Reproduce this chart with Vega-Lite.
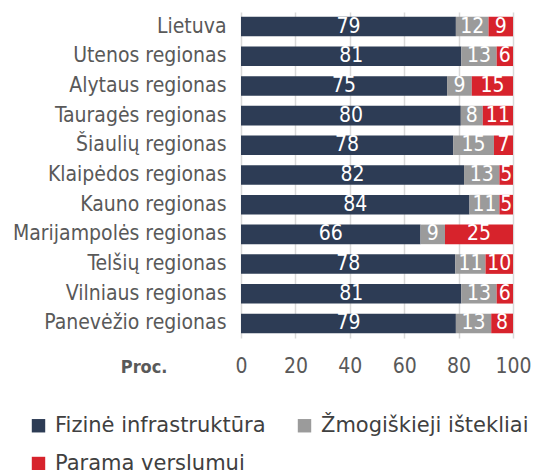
{
  "$schema": "https://vega.github.io/schema/vega-lite/v6.json",
  "autosize": {"type": "none"},
  "padding": {"left": 241, "top": 12, "right": 22, "bottom": 132},
  "width": 272,
  "height": 326,
  "background": "white",
  "config": {
    "font": "DejaVu Sans Condensed",
    "view": {"stroke": null}
  },
  "data": {
    "values": [
      {"region": "Lietuva", "category": "Fizinė infrastruktūra", "i": 0, "value": 79},
      {"region": "Lietuva", "category": "Žmogiškieji ištekliai", "i": 1, "value": 12},
      {"region": "Lietuva", "category": "Parama verslumui", "i": 2, "value": 9},
      {"region": "Utenos regionas", "category": "Fizinė infrastruktūra", "i": 0, "value": 81},
      {"region": "Utenos regionas", "category": "Žmogiškieji ištekliai", "i": 1, "value": 13},
      {"region": "Utenos regionas", "category": "Parama verslumui", "i": 2, "value": 6},
      {"region": "Alytaus regionas", "category": "Fizinė infrastruktūra", "i": 0, "value": 75},
      {"region": "Alytaus regionas", "category": "Žmogiškieji ištekliai", "i": 1, "value": 9},
      {"region": "Alytaus regionas", "category": "Parama verslumui", "i": 2, "value": 15},
      {"region": "Tauragės regionas", "category": "Fizinė infrastruktūra", "i": 0, "value": 80},
      {"region": "Tauragės regionas", "category": "Žmogiškieji ištekliai", "i": 1, "value": 8},
      {"region": "Tauragės regionas", "category": "Parama verslumui", "i": 2, "value": 11},
      {"region": "Šiaulių regionas", "category": "Fizinė infrastruktūra", "i": 0, "value": 78},
      {"region": "Šiaulių regionas", "category": "Žmogiškieji ištekliai", "i": 1, "value": 15},
      {"region": "Šiaulių regionas", "category": "Parama verslumui", "i": 2, "value": 7},
      {"region": "Klaipėdos regionas", "category": "Fizinė infrastruktūra", "i": 0, "value": 82},
      {"region": "Klaipėdos regionas", "category": "Žmogiškieji ištekliai", "i": 1, "value": 13},
      {"region": "Klaipėdos regionas", "category": "Parama verslumui", "i": 2, "value": 5},
      {"region": "Kauno regionas", "category": "Fizinė infrastruktūra", "i": 0, "value": 84},
      {"region": "Kauno regionas", "category": "Žmogiškieji ištekliai", "i": 1, "value": 11},
      {"region": "Kauno regionas", "category": "Parama verslumui", "i": 2, "value": 5},
      {"region": "Marijampolės regionas", "category": "Fizinė infrastruktūra", "i": 0, "value": 66},
      {"region": "Marijampolės regionas", "category": "Žmogiškieji ištekliai", "i": 1, "value": 9},
      {"region": "Marijampolės regionas", "category": "Parama verslumui", "i": 2, "value": 25},
      {"region": "Telšių regionas", "category": "Fizinė infrastruktūra", "i": 0, "value": 78},
      {"region": "Telšių regionas", "category": "Žmogiškieji ištekliai", "i": 1, "value": 11},
      {"region": "Telšių regionas", "category": "Parama verslumui", "i": 2, "value": 10},
      {"region": "Vilniaus regionas", "category": "Fizinė infrastruktūra", "i": 0, "value": 81},
      {"region": "Vilniaus regionas", "category": "Žmogiškieji ištekliai", "i": 1, "value": 13},
      {"region": "Vilniaus regionas", "category": "Parama verslumui", "i": 2, "value": 6},
      {"region": "Panevėžio regionas", "category": "Fizinė infrastruktūra", "i": 0, "value": 79},
      {"region": "Panevėžio regionas", "category": "Žmogiškieji ištekliai", "i": 1, "value": 13},
      {"region": "Panevėžio regionas", "category": "Parama verslumui", "i": 2, "value": 8}
    ]
  },
  "encoding": {
    "y": {
      "field": "region",
      "type": "nominal",
      "sort": null,
      "scale": {"paddingInner": 0.34, "paddingOuter": 0.16},
      "axis": {
        "title": null,
        "domain": false,
        "ticks": false,
        "labelFontSize": 21,
        "labelColor": "#595959",
        "labelPadding": 15,
        "labelLimit": 300
      }
    },
    "x": {
      "field": "value",
      "type": "quantitative",
      "stack": "normalize",
      "scale": {"domain": [0, 1], "nice": false},
      "axis": {
        "values": [0, 0.2, 0.4, 0.6, 0.8, 1],
        "labelExpr": "format(datum.value * 100, 'd')",
        "title": "Proc.",
        "titleFontWeight": "bold",
        "titleFontSize": 18,
        "titleColor": "#595959",
        "titleAnchor": "start",
        "titleAlign": "right",
        "titleBaseline": "middle",
        "titleX": -74,
        "titleY": 29,
        "domain": false,
        "ticks": false,
        "grid": true,
        "gridColor": "#d9d9d9",
        "gridWidth": 1.5,
        "labelFontSize": 21,
        "labelColor": "#595959",
        "labelBaseline": "middle",
        "labelPadding": 28,
        "labelFlush": false
      }
    },
    "order": {"field": "i", "type": "quantitative"}
  },
  "layer": [
    {
      "mark": {"type": "bar"},
      "encoding": {
        "color": {
          "field": "category",
          "type": "nominal",
          "scale": {
            "domain": ["Fizinė infrastruktūra", "Žmogiškieji ištekliai", "Parama verslumui"],
            "range": ["#2d3c55", "#9b9b9b", "#d7232c"]
          },
          "legend": {
            "title": null,
            "orient": "none",
            "legendX": -213,
            "legendY": 403,
            "direction": "horizontal",
            "columns": 2,
            "columnPadding": 28,
            "rowPadding": 16,
            "symbolType": "square",
            "symbolSize": 180,
            "symbolStrokeWidth": 0,
            "labelFont": "DejaVu Sans",
            "labelFontSize": 21,
            "labelColor": "#404040",
            "labelOffset": 6,
            "labelLimit": 400
          }
        }
      }
    },
    {
      "mark": {"type": "text", "color": "white", "fontSize": 21, "align": "center", "baseline": "middle"},
      "encoding": {
        "x": {"field": "value", "type": "quantitative", "stack": "normalize", "bandPosition": 0.5},
        "text": {"field": "value", "type": "quantitative"}
      }
    }
  ]
}
